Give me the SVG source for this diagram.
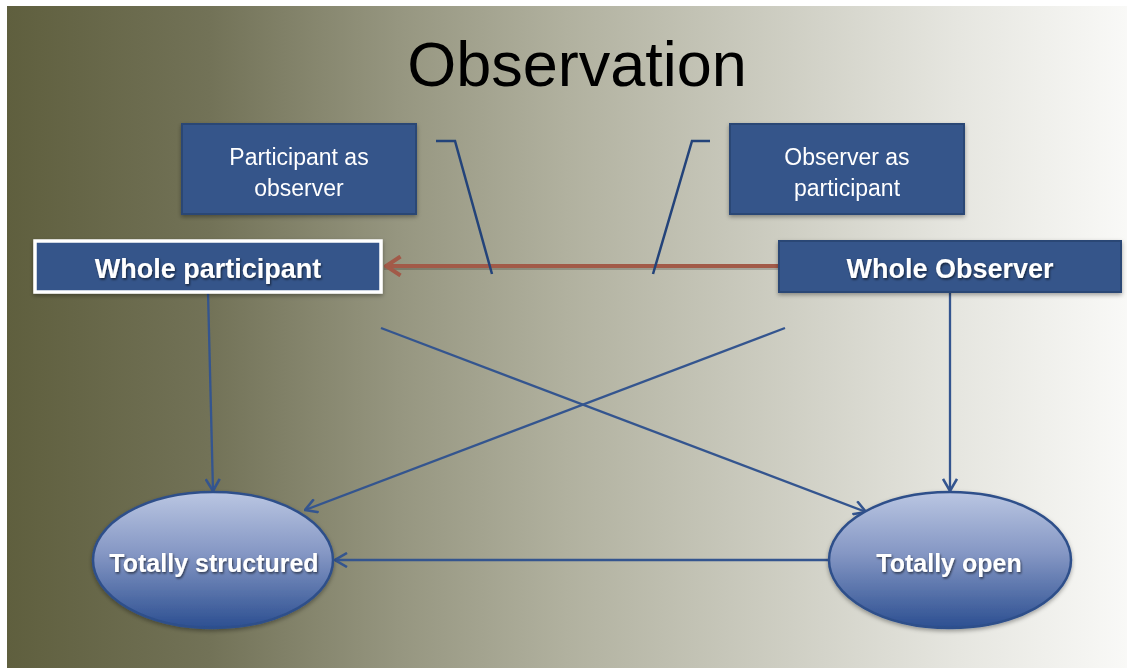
<svg xmlns="http://www.w3.org/2000/svg" width="1127" height="668" viewBox="0 0 1127 668">
<defs>
<linearGradient id="bg" x1="7" y1="0" x2="1127" y2="0" gradientUnits="userSpaceOnUse">
<stop offset="0" stop-color="#5f5f3e"/>
<stop offset="0.18" stop-color="#727257"/>
<stop offset="0.35" stop-color="#969680"/>
<stop offset="0.5" stop-color="#b1b19f"/>
<stop offset="0.7" stop-color="#cfcfc4"/>
<stop offset="0.85" stop-color="#e6e6e0"/>
<stop offset="1" stop-color="#f9f9f7"/>
</linearGradient>
<linearGradient id="ell" x1="0" y1="0" x2="0" y2="1">
<stop offset="0" stop-color="#bac6e2"/>
<stop offset="0.45" stop-color="#8597c4"/>
<stop offset="1" stop-color="#2c4f91"/>
</linearGradient>
<filter id="ts" x="-10%" y="-30%" width="120%" height="160%">
<feDropShadow dx="1" dy="1.5" stdDeviation="1.2" flood-color="#000" flood-opacity="0.6"/>
</filter>
<filter id="bs" x="-10%" y="-20%" width="120%" height="140%">
<feDropShadow dx="0" dy="2" stdDeviation="2" flood-color="#000" flood-opacity="0.35"/>
</filter>
<marker id="ab" viewBox="0 0 14 16" refX="13" refY="8" markerWidth="14" markerHeight="16" markerUnits="userSpaceOnUse" orient="auto">
<path d="M1,1 L13,8 L1,15" fill="none" stroke="#34558f" stroke-width="2.6"/>
</marker>
<marker id="ar" viewBox="0 0 18 22" refX="17" refY="11" markerWidth="18" markerHeight="22" markerUnits="userSpaceOnUse" orient="auto">
<path d="M1.5,1.5 L16,11 L1.5,20.5" fill="none" stroke="#a25a48" stroke-width="4"/>
</marker>
<style>
.lbl{font-family:"Liberation Sans",Arial,sans-serif;fill:#fff;text-anchor:middle}
.bold{font-weight:bold}
.box{fill:#36558a;stroke:#2b4675;stroke-width:2}
.con{stroke:#34558f;stroke-width:2.3;fill:none}
.call{stroke:#23437a;stroke-width:2.5;fill:none}
</style>
</defs>
<rect x="0" y="0" width="1127" height="668" fill="#fff"/>
<rect x="7" y="6" width="1120" height="662" fill="url(#bg)"/>
<text x="577" y="86" font-family="'Liberation Sans',Arial,sans-serif" font-size="63" fill="#000" text-anchor="middle">Observation</text>

<g id="connectors">
<line class="con" x1="208" y1="292" x2="213" y2="491" marker-end="url(#ab)"/>
<line class="con" x1="950" y1="292" x2="950" y2="491" marker-end="url(#ab)"/>
<line class="con" x1="381" y1="328" x2="866" y2="512" marker-end="url(#ab)"/>
<line class="con" x1="785" y1="328" x2="305" y2="510" marker-end="url(#ab)"/>
<line class="con" x1="828" y1="560" x2="335" y2="560" marker-end="url(#ab)"/>
<line x1="779" y1="268" x2="384" y2="268" stroke="#000" stroke-opacity="0.18" stroke-width="4"/>
<line x1="779" y1="266" x2="385" y2="266" stroke="#a25a48" stroke-width="4" marker-end="url(#ar)"/>
<polyline class="call" points="436,141 455,141 492,274"/>
<polyline class="call" points="710,141 692,141 653,274"/>
</g>

<g id="participant-as-observer" filter="url(#bs)">
<rect class="box" x="182" y="124" width="234" height="90"/>
<text class="lbl" x="299" y="165" font-size="23">Participant as</text>
<text class="lbl" x="299" y="196" font-size="23">observer</text>
</g>

<g id="observer-as-participant" filter="url(#bs)">
<rect class="box" x="730" y="124" width="234" height="90"/>
<text class="lbl" x="847" y="165" font-size="23">Observer as</text>
<text class="lbl" x="847" y="196" font-size="23">participant</text>
</g>

<g id="whole-participant">
<rect x="35" y="241" width="346" height="51" fill="#36558a" stroke="#ffffff" stroke-width="3.5" filter="url(#bs)"/>
<text class="lbl bold" x="208" y="278" font-size="27" filter="url(#ts)">Whole participant</text>
</g>

<g id="whole-observer">
<rect class="box" x="779" y="241" width="342" height="51" filter="url(#bs)"/>
<text class="lbl bold" x="950" y="278" font-size="27" filter="url(#ts)">Whole Observer</text>
</g>

<g id="totally-structured">
<ellipse cx="213" cy="560" rx="120" ry="68" fill="url(#ell)" stroke="#2e4f8a" stroke-width="2.5" filter="url(#bs)"/>
<text class="lbl bold" x="214" y="572" font-size="25" filter="url(#ts)">Totally structured</text>
</g>

<g id="totally-open">
<ellipse cx="950" cy="560" rx="121" ry="68" fill="url(#ell)" stroke="#2e4f8a" stroke-width="2.5" filter="url(#bs)"/>
<text class="lbl bold" x="949" y="572" font-size="25" filter="url(#ts)">Totally open</text>
</g>
</svg>
